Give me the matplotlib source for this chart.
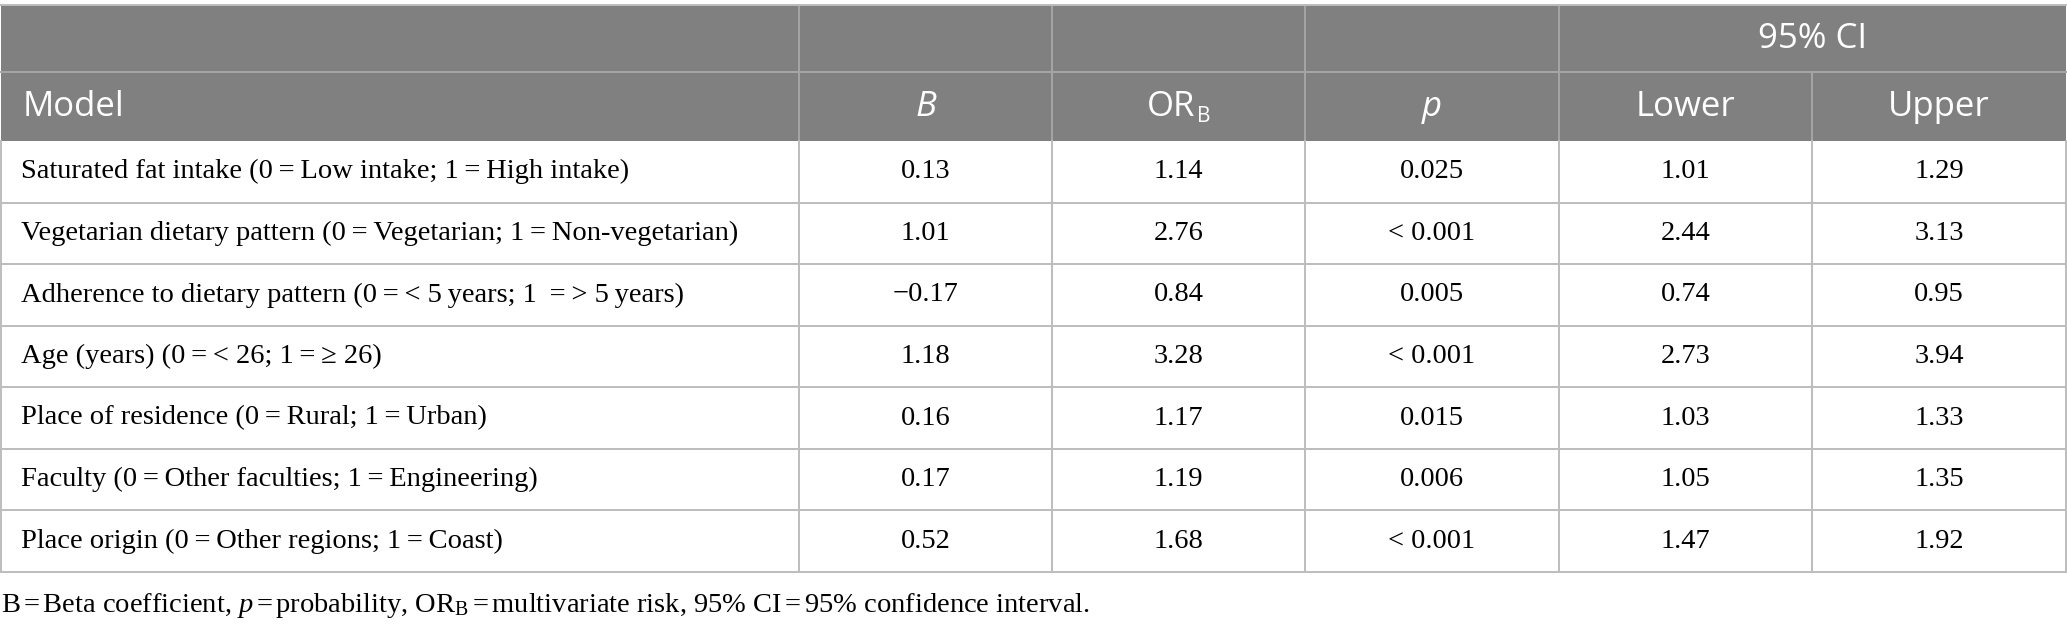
import matplotlib
matplotlib.use("Agg")
import matplotlib.pyplot as plt
from matplotlib.patches import Rectangle

plt.rcParams['mathtext.fontset'] = 'custom'
plt.rcParams['mathtext.rm'] = 'Liberation Serif'
plt.rcParams['mathtext.it'] = 'Liberation Serif:italic'

t = "\u2009"  # espacio fino, como en la tabla original

# datos de la tabla
modelos = [
    f"Saturated fat intake (0{t}={t}Low intake; 1{t}={t}High intake)",
    f"Vegetarian dietary pattern (0{t}={t}Vegetarian; 1{t}={t}Non-vegetarian)",
    f"Adherence to dietary pattern (0{t}={t}< 5{t}years; 1 {t}={t}> 5{t}years)",
    f"Age (years) (0{t}={t}< 26; 1{t}={t}\u2265 26)",
    f"Place of residence (0{t}={t}Rural; 1{t}={t}Urban)",
    f"Faculty (0{t}={t}Other faculties; 1{t}={t}Engineering)",
    f"Place origin (0{t}={t}Other regions; 1{t}={t}Coast)",
]
beta = ["0.13", "1.01", "\u22120.17", "1.18", "0.16", "0.17", "0.52"]
or_b = ["1.14", "2.76", "0.84", "3.28", "1.17", "1.19", "1.68"]
pval = ["0.025", "< 0.001", "0.005", "< 0.001", "0.015", "0.006", "< 0.001"]
lower = ["1.01", "2.44", "0.74", "2.73", "1.03", "1.05", "1.47"]
upper = ["1.29", "3.13", "0.95", "3.94", "1.33", "1.35", "1.92"]
nota = (r"B$\,$=$\,$Beta coefficient, $p\,$=$\,$probability, OR$_\mathrm{B}\,$=$\,$multivariate risk, "
        r"95% CI$\,$=$\,$95% confidence interval.")

# layout en pixeles
W, H = 2067, 624
cols = [1, 799, 1052, 1305, 1559, 1812, 2066]
top, mid, hdr = 5, 72, 141
bottom = 572
nrows = len(modelos)
rh = (bottom - hdr) / nrows

gris = "#808080"
linea = "#bdbdbd"
linea_hdr = "#a6a6a6"
serif = "Liberation Serif"
sans = "Open Sans"
fs_body = 20.5
fs_hdr = 25

fig = plt.figure(figsize=(W / 100, H / 100), dpi=100)
ax = fig.add_axes([0, 0, 1, 1])
ax.set_xlim(0, W)
ax.set_ylim(H, 0)
ax.axis("off")

# encabezado
ax.add_patch(Rectangle((cols[0], top), cols[-1] - cols[0], hdr - top, color=gris, lw=0))
ax.plot([cols[0], cols[-1]], [mid, mid], color=linea_hdr, lw=1.4)
for x in cols[1:5]:
    ax.plot([x, x], [top, hdr], color=linea_hdr, lw=1.4)
ax.plot([cols[5], cols[5]], [mid, hdr], color=linea_hdr, lw=1.4)
ax.plot([cols[0], cols[-1]], [top, top], color=linea, lw=1.4)

ym = (mid + hdr) / 2
ax.text(23, ym, "Model", color="white", fontsize=fs_hdr, family=sans, va="center", ha="left")
ax.text((cols[1] + cols[2]) / 2, ym, "B", color="white", fontsize=fs_hdr, family=sans,
        style="italic", va="center", ha="center")
ax.text((cols[3] + cols[4]) / 2, ym, "p", color="white", fontsize=fs_hdr, family=sans,
        style="italic", va="center", ha="center")
ax.text((cols[4] + cols[5]) / 2, ym, "Lower", color="white", fontsize=fs_hdr, family=sans,
        va="center", ha="center")
ax.text((cols[5] + cols[6]) / 2, ym, "Upper", color="white", fontsize=fs_hdr, family=sans,
        va="center", ha="center")
ax.text((cols[4] + cols[6]) / 2, (top + mid) / 2, "95% CI", color="white", fontsize=fs_hdr,
        family=sans, va="center", ha="center")

# OR con subindice B, pegado a la R
cx = (cols[2] + cols[3]) / 2
t_or = ax.text(cx - 7, ym, "OR", color="white", fontsize=fs_hdr, family=sans,
               va="center", ha="center")
fig.canvas.draw()
bb = t_or.get_window_extent()
x_r = ax.transData.inverted().transform((bb.x1, bb.y0))[0]
ax.text(x_r + 1, ym + 10, "B", color="white", fontsize=fs_hdr * 0.6, family=sans,
        va="center", ha="left")

# filas
for i in range(nrows):
    yc = hdr + rh * (i + 0.5)
    ax.text(21, yc, modelos[i], fontsize=fs_body, family=serif, va="center", ha="left")
    for j, vals in enumerate([beta, or_b, pval, lower, upper]):
        ax.text((cols[j + 1] + cols[j + 2]) / 2, yc, vals[i], fontsize=fs_body, family=serif,
                va="center", ha="center")

for i in range(1, nrows + 1):
    y = hdr + rh * i
    ax.plot([cols[0], cols[-1]], [y, y], color=linea, lw=1.4)
for x in cols:
    ax.plot([x, x], [hdr, bottom], color=linea, lw=1.4)

ax.text(1, 606, nota, fontsize=fs_body, family=serif, va="center", ha="left")

fig.savefig("out.png", dpi=100)
